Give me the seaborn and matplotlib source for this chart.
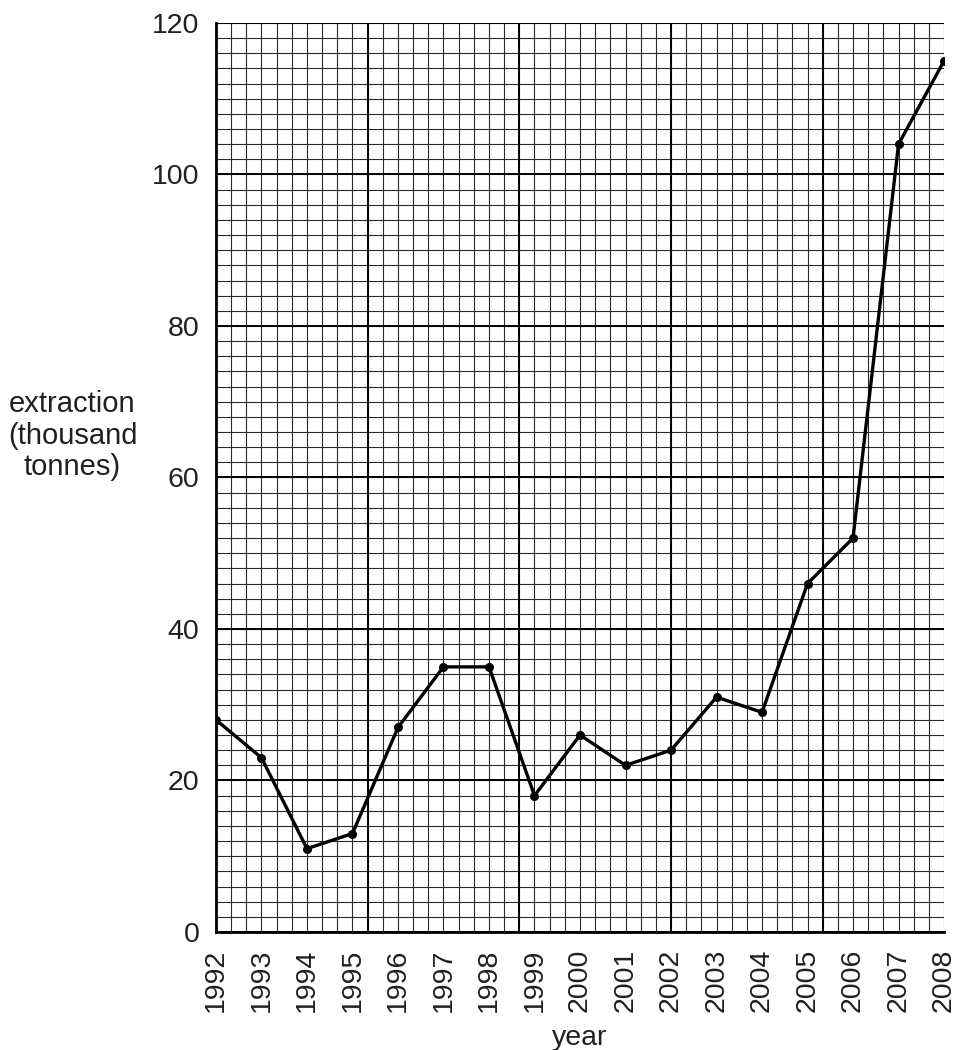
import numpy as np
import pandas as pd
import matplotlib
matplotlib.use("Agg")
import matplotlib.pyplot as plt
import seaborn as sns

# data
years = [1992, 1993, 1994, 1995, 1996, 1997, 1998, 1999, 2000,
         2001, 2002, 2003, 2004, 2005, 2006, 2007, 2008]
extraction = [28, 23, 11, 13, 27, 35, 35, 18, 26,
              22, 24, 31, 29, 46, 52, 104, 115]
y_ticks = [0, 20, 40, 60, 80, 100, 120]

df = pd.DataFrame({'year': years, 'extraction': extraction})

sns.set_style("white")
plt.rcParams['font.family'] = ['Liberation Sans', 'DejaVu Sans']
txt_color = '#231f20'

fig = plt.figure(figsize=(9.59, 10.5), dpi=100)
ax = fig.add_axes([0.2252, 0.1124, 0.7592, 0.8657])

# graph paper grid: 3 small squares per year, 2 units per small square
x0, x1 = years[0], years[-1]
minor_x = np.arange(x0, x1 + 1e-6, 1 / 3)
minor_y = np.arange(0, 120 + 1e-6, 2)
major_x = np.arange(x0, x1 + 1e-6, 10 / 3)
major_y = np.arange(0, 120 + 1e-6, 20)
ax.vlines(minor_x, 0, 120, color='#2a2a2a', lw=0.8, zorder=1)
ax.hlines(minor_y, x0, x1, color='#2a2a2a', lw=0.8, zorder=1)
ax.vlines(major_x, 0, 120, color='black', lw=1.4, zorder=1)
ax.hlines(major_y, x0, x1, color='black', lw=1.4, zorder=1)

sns.lineplot(data=df, x='year', y='extraction', color='black', lw=2.4,
             marker='o', markersize=6.5, markeredgewidth=0, ax=ax, zorder=3)

ax.set_xlim(x0, x1)
ax.set_ylim(0, 120)
ax.set_xticks(years)
ax.set_xticklabels([str(y) for y in years], rotation=90, fontsize=20.5,
                   color=txt_color)
ax.set_yticks(y_ticks)
ax.set_yticklabels([str(t) for t in y_ticks], fontsize=20.5, color=txt_color)
ax.tick_params(axis='both', direction='out', length=9, width=1.6,
               color='black', pad=3)

for side in ['top', 'right']:
    ax.spines[side].set_visible(False)
for side in ['left', 'bottom']:
    ax.spines[side].set_linewidth(2)
    ax.spines[side].set_color('black')

ax.set_xlabel('year', fontsize=20.5, labelpad=9, color=txt_color)
ax.set_ylabel('')
fig.text(0.0756, 0.585, 'extraction\n(thousand\ntonnes)', fontsize=21,
         ha='center', va='center', linespacing=1.17, color=txt_color)

fig.savefig('out.png', dpi=100)
